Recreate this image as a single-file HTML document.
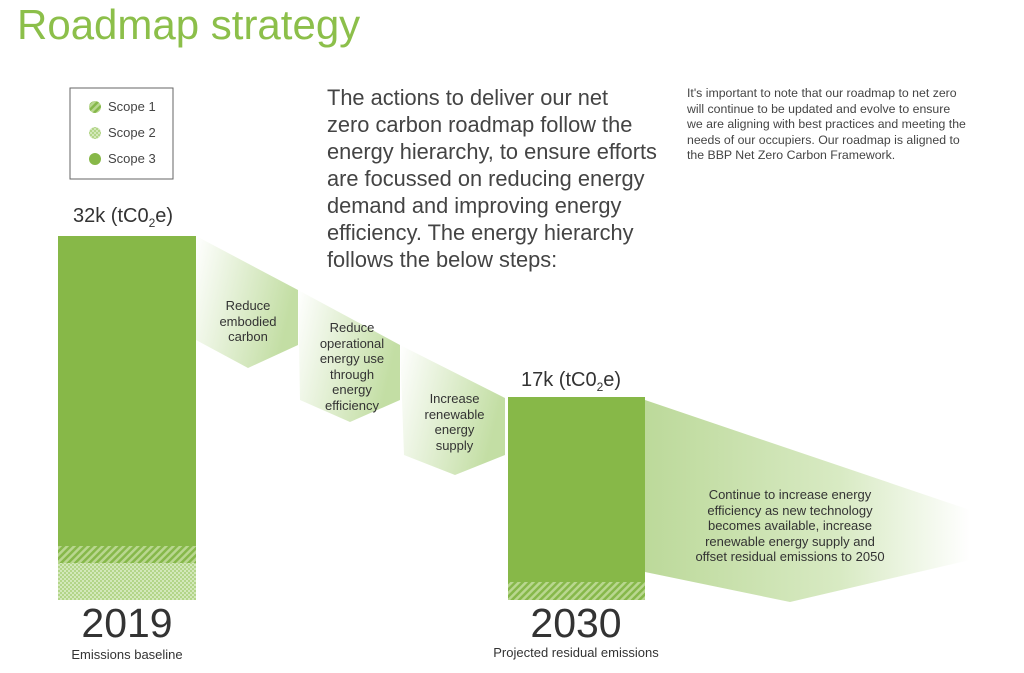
<!DOCTYPE html>
<html><head><meta charset="utf-8"><style>
body{margin:0;width:1024px;height:673px;background:#fff;overflow:hidden;font-family:"Liberation Sans",sans-serif;position:relative}
.t{position:absolute;white-space:nowrap}
</style></head><body>
<svg width="1024" height="673" style="position:absolute;left:0;top:0">
<defs>
<linearGradient id="g1" x1="0" y1="0" x2="1" y2="0.3">
<stop offset="0" stop-color="#fff"/><stop offset="1" stop-color="#c3dea4"/></linearGradient>
<linearGradient id="g2" x1="0" y1="0" x2="1" y2="0">
<stop offset="0" stop-color="#bcd99a"/><stop offset="0.6" stop-color="#d8eac3"/><stop offset="1" stop-color="#fff"/></linearGradient>
<pattern id="hatch" width="5" height="5" patternUnits="userSpaceOnUse" patternTransform="rotate(45)">
<rect width="5" height="5" fill="#b9d78f"/><rect width="2.5" height="5" fill="#86b84a"/></pattern>
<pattern id="dots" width="4" height="4" patternUnits="userSpaceOnUse">
<rect width="4" height="4" fill="#d3e8ba"/><circle cx="1" cy="1" r="0.9" fill="#9cc866"/><circle cx="3" cy="3" r="0.9" fill="#9cc866"/></pattern>
</defs>
<polygon points="196,236 298,290 298,345 248,368 196,340" fill="url(#g1)"/>
<polygon points="298,290 400,345 400,400 350,422 300,400" fill="url(#g1)"/>
<polygon points="400,345 505,398 505,455 455,475 404,455" fill="url(#g1)"/>
<polygon points="645,400 970,510 970,560 790,602 645,572" fill="url(#g2)"/>
<rect x="58" y="236" width="138" height="310" fill="#87b848"/>
<rect x="58" y="546" width="138" height="17" fill="url(#hatch)"/>
<rect x="58" y="563" width="138" height="37" fill="url(#dots)"/>
<rect x="508" y="397" width="137" height="185" fill="#87b848"/>
<rect x="508" y="582" width="137" height="18" fill="url(#hatch)"/>
<rect x="70" y="88" width="103" height="91" fill="#fff" stroke="#666" stroke-width="1"/>
<circle cx="95" cy="107" r="6" fill="url(#hatch)"/>
<circle cx="95" cy="133" r="6" fill="url(#dots)"/>
<circle cx="95" cy="159" r="6" fill="#87b848"/>
</svg>
<div class="t" style="left:17px;top:1px;font-size:42px;color:#8cbf4a">Roadmap strategy</div>
<div class="t" style="left:108px;top:99px;font-size:13px;color:#444">Scope 1</div>
<div class="t" style="left:108px;top:125px;font-size:13px;color:#444">Scope 2</div>
<div class="t" style="left:108px;top:151px;font-size:13px;color:#444">Scope 3</div>
<div class="t" style="left:73px;top:205px;font-size:20px;color:#333">32k (tC0<sub style="font-size:12px">2</sub>e)</div>
<div class="t" style="left:521px;top:369px;font-size:20px;color:#333">17k (tC0<sub style="font-size:12px">2</sub>e)</div>
<div class="t" style="left:327px;top:84px;font-size:21.8px;line-height:27px;color:#444">The actions to deliver our net<br>zero carbon roadmap follow the<br>energy hierarchy, to ensure efforts<br>are focussed on reducing energy<br>demand and improving energy<br>efficiency. The energy hierarchy<br>follows the below steps:</div>
<div class="t" style="left:687px;top:86px;font-size:12.3px;line-height:15.5px;color:#444">It's important to note that our roadmap to net zero<br>will continue to be updated and evolve to ensure<br>we are aligning with best practices and meeting the<br>needs of our occupiers. Our roadmap is aligned to<br>the BBP Net Zero Carbon Framework.</div>
<div class="t" style="left:198px;top:298px;width:100px;text-align:center;font-size:13px;line-height:15.5px;color:#333">Reduce<br>embodied<br>carbon</div>
<div class="t" style="left:300px;top:320px;width:104px;text-align:center;font-size:13px;line-height:15.5px;color:#333">Reduce<br>operational<br>energy use<br>through<br>energy<br>efficiency</div>
<div class="t" style="left:404px;top:391px;width:101px;text-align:center;font-size:13px;line-height:15.5px;color:#333">Increase<br>renewable<br>energy<br>supply</div>
<div class="t" style="left:660px;top:487px;width:260px;text-align:center;font-size:13px;line-height:15.5px;color:#333">Continue to increase energy<br>efficiency as new technology<br>becomes available, increase<br>renewable energy supply and<br>offset residual emissions to 2050</div>
<div class="t" style="left:57px;top:600px;width:140px;text-align:center;font-size:41px;color:#333">2019</div>
<div class="t" style="left:57px;top:647px;width:140px;text-align:center;font-size:13px;color:#333">Emissions baseline</div>
<div class="t" style="left:476px;top:600px;width:200px;text-align:center;font-size:41px;color:#333">2030</div>
<div class="t" style="left:456px;top:645px;width:240px;text-align:center;font-size:13px;color:#333">Projected residual emissions</div>
</body></html>
